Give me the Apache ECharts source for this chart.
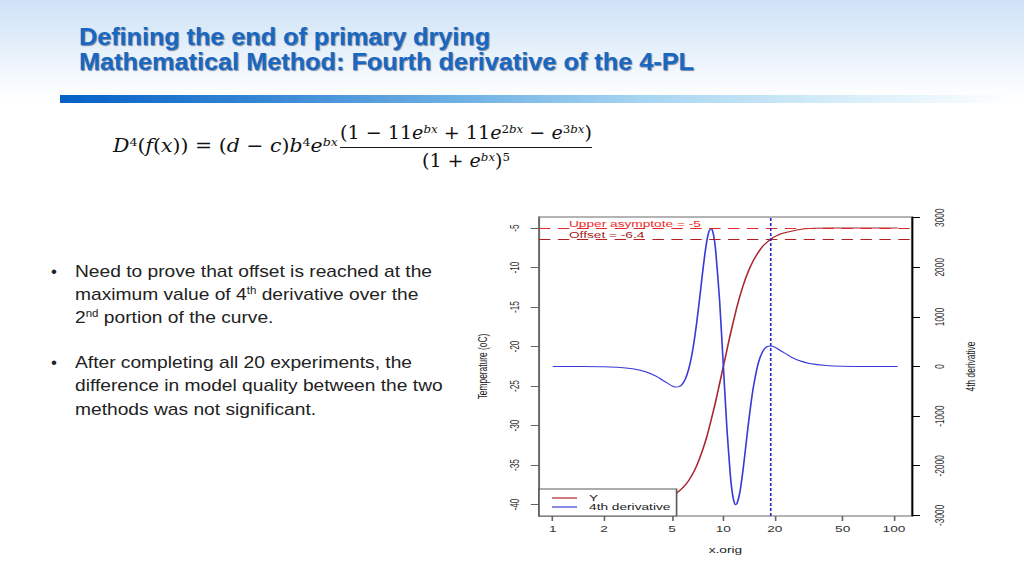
<!DOCTYPE html>
<html>
<head>
<meta charset="utf-8">
<script src="https://cdn.jsdelivr.net/npm/echarts@6/dist/echarts.min.js"></script>
<style>
html,body{margin:0;padding:0;}
body{width:1024px;height:576px;position:relative;overflow:hidden;
  background:linear-gradient(to bottom,#cfe2f6 0px,#deecf9 35px,#f1f7fd 70px,#ffffff 100px);
  font-family:'Liberation Sans',Arial,sans-serif;}
.abs{position:absolute;white-space:nowrap;transform-origin:0 0;}
.title{font-family:'Liberation Sans',Arial,sans-serif;font-weight:bold;font-size:24px;line-height:24px;
  color:#1868c2;text-shadow:1px 1px 1px rgba(0,20,70,0.5);}
.bar{position:absolute;left:60px;top:95px;width:955px;height:8px;
  background:linear-gradient(to right,#0560c6 0%,#2f80d2 18%,#6aaee3 40%,#a9d6f2 62%,#d7eef9 82%,rgba(255,255,255,0) 100%);}
.fx{font-family:'DejaVu Serif','Liberation Serif',serif;font-size:19px;line-height:19px;color:#111;}
.fx sup{font-size:0.62em;line-height:0;vertical-align:0.55em;}
.fbar{position:absolute;background:#1a1a1a;}
.bl{font-size:17px;line-height:23.2px;color:#222;}
.bl sup{font-size:0.6em;line-height:0;vertical-align:0.6em;}
.dot{position:absolute;font-size:17px;line-height:23.2px;color:#222;}
#chart{position:absolute;left:470px;top:200px;height:376px;transform-origin:0 0;}
</style>
</head>
<body>
<div class="abs title" id="t1" style="left:79px;top:24.9px;">Defining the end of primary drying</div>
<div class="abs title" id="t2" style="left:79px;top:49.9px;">Mathematical Method: Fourth derivative of the 4-PL</div>
<div class="bar"></div>

<div class="abs fx" id="fl" style="left:113px;top:135.6px;"><i>D</i><sup>4</sup>(<i>f</i>(<i>x</i>)) = (<i>d</i> − <i>c</i>)<i>b</i><sup>4</sup><i>e</i><sup><i>bx</i></sup></div>
<div class="abs fx" id="fn" style="left:340px;top:122.9px;">(1 − 11<i>e</i><sup><i>bx</i></sup> + 11<i>e</i><sup>2<i>bx</i></sup> − <i>e</i><sup>3<i>bx</i></sup>)</div>
<div class="fbar" style="left:340px;top:146.6px;width:252px;height:1.4px;"></div>
<div class="abs fx" id="fd" style="left:422px;top:150.9px;">(1 + <i>e</i><sup><i>bx</i></sup>)<sup>5</sup></div>

<div class="dot" style="left:51px;top:259.6px;">•</div>
<div class="abs bl" id="b1" style="left:75px;top:259.6px;"><span id="b1l1">Need to prove that offset is reached at the</span><br>maximum value of 4<sup>th</sup> derivative over the<br>2<sup>nd</sup> portion of the curve.</div>
<div class="dot" style="left:51px;top:351.2px;">•</div>
<div class="abs bl" id="b2" style="left:75px;top:351.2px;">After completing all 20 experiments, the<br>difference in model quality between the two<br>methods was not significant.</div>

<div id="chart"></div>

<script>
// ---------------- data ----------------
const xTickValues = [1, 2, 5, 10, 20, 50, 100];
const xTickLabels = ['1', '2', '5', '10', '20', '50', '100'];
const tempTicks = [-40, -35, -30, -25, -20, -15, -10, -5];
const derivTicks = [-3000, -2000, -1000, 0, 1000, 2000, 3000];

// Y (temperature, left axis)
const yX = [1, 2, 3, 4, 5, 5.5, 6, 6.5, 7, 7.5, 8, 8.5, 9, 9.5, 10, 10.5, 11, 12, 13, 14, 15, 16, 17, 18, 19, 20, 22, 25, 30, 40, 60, 105];
const yTemp = [-40.0, -40.0, -39.9, -39.6, -38.9, -38.3, -37.5, -36.4, -35.0, -33.3, -31.4, -29.2, -27.0, -24.7, -22.5, -20.4, -18.4, -15.0, -12.4, -10.5, -9.1, -8.1, -7.3, -6.8, -6.4, -6.1, -5.7, -5.4, -5.1, -5.0, -5.0, -5.0];

// 4th derivative (right axis)
const dX = [1, 1.5, 2, 2.5, 3, 3.5, 4, 4.5, 5, 5.25, 5.5, 5.75, 6, 6.25, 6.5, 6.75, 7, 7.25, 7.5, 7.75, 8, 8.25, 8.5, 8.75, 9, 9.5, 10, 10.5, 11, 11.25, 11.5, 11.75, 12, 12.5, 13, 13.5, 14, 14.5, 15, 16, 17, 18, 19, 20, 22, 25, 28, 32, 40, 50, 70, 105];
const dVal = [0, -2, -7, -21, -51, -106, -190, -295, -391, -415, -407, -354, -244, -63, 192, 525, 922, 1355, 1801, 2205, 2531, 2735, 2784, 2659, 2361, 1336, 0, -1275, -2214, -2516, -2701, -2788, -2770, -2531, -2118, -1638, -1167, -753, -407, 63, 304, 400, 415, 391, 305, 190, 116, 62, 21, 7, 1, 0];

const upperAsymptote = -5;
const offsetValue = -6.4;
const offsetX = 18.9;
const seriesNames = ['Y', '4th derivative'];

// ---------------- slide text fitting ----------------
function fitX(id, target) {
  const el = document.getElementById(id);
  el.style.transform = 'none';
  const w = el.getBoundingClientRect().width;
  el.style.transform = 'scaleX(' + (target / w) + ')';
}
function fitAll() {
  fitX('t1', 411);
  fitX('t2', 615);
  fitX('fl', 225);
  fitX('fn', 252);
  fitX('fd', 88);
  const b1 = document.getElementById('b1'), b2 = document.getElementById('b2');
  b1.style.transform = 'none'; b2.style.transform = 'none';
  const w = document.getElementById('b1l1').getBoundingClientRect().width;
  const s = 357 / w;
  b1.style.transform = 'scaleX(' + s + ')';
  b2.style.transform = 'scaleX(' + s + ')';
}
fitAll();
if (document.fonts && document.fonts.ready) document.fonts.ready.then(fitAll);

// ---------------- chart ----------------
const SX = 1.63;              // horizontal stretch of the original plot image
const PAGE_LEFT = 470, PAGE_W = 530;
const W = PAGE_W / SX;
const ux = px => (px - PAGE_LEFT) / SX;
const chartEl = document.getElementById('chart');
chartEl.style.width = W + 'px';
chartEl.style.transform = 'scaleX(' + SX + ')';

const FONT = "'Liberation Sans', Arial, sans-serif";
const FS = 8.4;
const xMin = 0.831, xMax = 127;
const plain = v => String(Math.round(v * 1000) / 1000);

const labelFor = v => {
  let bi = 0, bd = Infinity;
  xTickValues.forEach((t, i) => { const d = Math.abs(Math.log10(t) - v); if (d < bd) { bd = d; bi = i; } });
  return xTickLabels[bi];
};

const chart = echarts.init(chartEl, null, { renderer: 'svg' });
const gridLeft = ux(539);
const gridRightEdge = ux(912);

chart.setOption({
  animation: false,
  textStyle: { fontFamily: FONT },
  grid: {
    left: gridLeft, right: W - gridRightEdge, top: 17, bottom: 60,
    show: true, borderColor: '#6a6a6a', borderWidth: 1, backgroundColor: 'transparent',
    containLabel: false, outerBoundsMode: 'none'
  },
  legend: {
    data: seriesNames, orient: 'vertical', left: gridLeft, bottom: 60,
    padding: [4.5, 3.9, 4.5, 8], itemGap: 0, itemWidth: 15.3, itemHeight: 1.2, icon: 'rect',
    backgroundColor: '#ffffff', borderColor: '#5a5a5a', borderWidth: 1, borderRadius: 0,
    selectedMode: false,
    textStyle: { fontSize: FS, lineHeight: 9, color: '#222', fontFamily: FONT, padding: [0, 0, 0, 2.4] }
  },
  xAxis: [
    { type: 'log', logBase: 10, min: xMin, max: xMax, show: false, position: 'top', axisLine: { onZero: false } },
    {
      type: 'value', min: Math.log10(xMin), max: Math.log10(xMax), position: 'bottom',
      name: 'x.orig', nameLocation: 'middle', nameGap: 30,
      nameTextStyle: { fontSize: FS, color: '#222', fontFamily: FONT },
      axisLine: { show: false, onZero: false }, splitLine: { show: false },
      axisTick: { show: true, length: 5, lineStyle: { color: '#666', width: 1 }, customValues: xTickValues.map(v => Math.log10(v)) },
      axisLabel: { customValues: xTickValues.map(v => Math.log10(v)), formatter: labelFor, margin: 9.5, fontSize: FS, color: '#333', fontFamily: FONT }
    }
  ],
  yAxis: [
    {
      type: 'value', min: -41.45, max: -3.605, position: 'left',
      name: 'Temperature (oC)', nameLocation: 'middle', nameRotate: 90, nameGap: 30.6,
      nameTextStyle: { fontSize: FS, color: '#222', fontFamily: FONT },
      axisLine: { show: true, onZero: false, lineStyle: { color: '#6a6a6a', width: 1 } }, splitLine: { show: false },
      axisTick: { show: true, length: 5, lineStyle: { color: '#666', width: 1 }, customValues: tempTicks },
      axisLabel: { customValues: tempTicks, formatter: plain, rotate: 90, margin: 11, fontSize: FS, color: '#333', fontFamily: FONT }
    },
    {
      type: 'value', min: -3013, max: 3013, position: 'right',
      name: '4th derivative', nameLocation: 'middle', nameRotate: 90, nameGap: 31.8,
      nameTextStyle: { fontSize: FS, color: '#222', fontFamily: FONT },
      axisLine: { show: true, onZero: false, lineStyle: { color: '#000', width: 1 } }, splitLine: { show: false },
      axisTick: { show: true, length: 5, lineStyle: { color: '#000', width: 1 }, customValues: derivTicks },
      axisLabel: { customValues: derivTicks, formatter: plain, rotate: 90, margin: 12.6, fontSize: FS, color: '#333', fontFamily: FONT }
    }
  ],
  series: [
    {
      name: seriesNames[0], type: 'line', xAxisIndex: 0, yAxisIndex: 0,
      data: yX.map((x, i) => [x, yTemp[i]]),
      showSymbol: false, symbol: 'none', smooth: 0.2,
      lineStyle: { color: '#a8262c', width: 1 }, itemStyle: { color: '#a8262c' },
      z: 2,
      markLine: {
        silent: true, symbol: 'none', animation: false,
        data: [
          {
            yAxis: upperAsymptote,
            lineStyle: { color: '#e02a2a', type: [7, 4.6], width: 1 },
            label: { show: true, formatter: 'Upper asymptote = ' + upperAsymptote, position: 'insideStartTop', distance: 0,
              padding: [0, 0, 0, 18.4], color: '#ee2e2e', fontSize: FS, fontFamily: FONT }
          },
          {
            yAxis: offsetValue,
            lineStyle: { color: '#b41f22', type: [7, 4.6], width: 1 },
            label: { show: true, formatter: 'Offset = ' + offsetValue, position: 'insideStartTop', distance: 0,
              padding: [0, 0, 0, 18.4], color: '#a51c1f', fontSize: FS, fontFamily: FONT }
          }
        ]
      }
    },
    {
      name: seriesNames[1], type: 'line', xAxisIndex: 0, yAxisIndex: 1,
      data: dX.map((x, i) => [x, dVal[i]]),
      showSymbol: false, symbol: 'none', smooth: 0.2,
      lineStyle: { color: '#3a3ad8', width: 1 }, itemStyle: { color: '#3a3ad8' },
      z: 2,
      markLine: {
        silent: true, symbol: 'none', animation: false,
        data: [{ xAxis: offsetX, lineStyle: { color: '#2626c4', type: [3, 2], width: 1 }, label: { show: false } }]
      }
    }
  ]
});
</script>
</body>
</html>
